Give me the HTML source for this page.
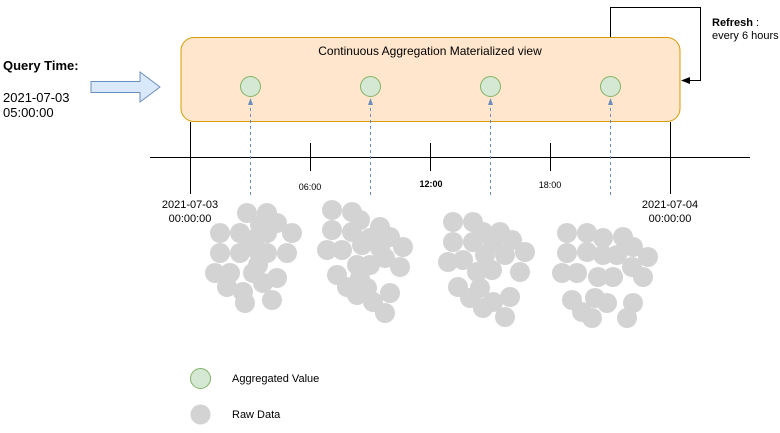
<!DOCTYPE html>
<html><head><meta charset="utf-8"><style>
html,body{margin:0;padding:0;background:#fff;}
svg{display:block;font-family:"Liberation Sans",Arial,sans-serif;}
</style></head><body>
<svg width="780" height="433" viewBox="0 0 780 433" xmlns="http://www.w3.org/2000/svg">
<rect x="181" y="37.5" width="499" height="84" rx="13" fill="#ffe6cc" stroke="#d79b00"/>
<text x="430" y="55" font-size="12" text-anchor="middle" fill="#000">Continuous Aggregation Materialized view</text>
<polyline points="610.5,37 610.5,7.5 700.5,7.5 700.5,80.5 688,80.5" fill="none" stroke="#000"/>
<polygon points="681,80.5 690,77 690,84" fill="#000"/>
<text x="712" y="26" font-size="11" font-weight="bold">Refresh <tspan font-weight="normal">:</tspan></text>
<text x="712" y="39" font-size="11">every 6 hours</text>
<text x="3" y="70" font-size="13" font-weight="bold">Query Time:</text>
<text x="3" y="102" font-size="13">2021-07-03</text>
<text x="3" y="117" font-size="13">05:00:00</text>
<polygon points="91,81.5 140,81.5 140,72 160,87 140,102 140,92.5 91,92.5" fill="#dae8fc" stroke="#6c8ebf"/>
<line x1="150" y1="157.5" x2="750" y2="157.5" stroke="#000"/>
<line x1="310.5" y1="143" x2="310.5" y2="171" stroke="#000"/>
<line x1="430.5" y1="143" x2="430.5" y2="171" stroke="#000"/>
<line x1="550.5" y1="143" x2="550.5" y2="171" stroke="#000"/>
<line x1="190.5" y1="122" x2="190.5" y2="194" stroke="#000"/>
<line x1="670.5" y1="122" x2="670.5" y2="194" stroke="#000"/>
<text x="310" y="190" font-size="9" text-anchor="middle">06:00</text>
<text x="431" y="187" font-size="9" font-weight="bold" text-anchor="middle">12:00</text>
<text x="550" y="188" font-size="9" text-anchor="middle">18:00</text>
<text x="190" y="208" font-size="11" text-anchor="middle">2021-07-03</text>
<text x="190" y="222" font-size="11" text-anchor="middle">00:00:00</text>
<text x="670" y="208" font-size="11" text-anchor="middle">2021-07-04</text>
<text x="670" y="222" font-size="11" text-anchor="middle">00:00:00</text>
<g stroke="#6c8ebf" stroke-dasharray="3,3">
<line x1="250.5" y1="195" x2="250.5" y2="104"/>
<line x1="370.5" y1="195" x2="370.5" y2="104"/>
<line x1="490.5" y1="195" x2="490.5" y2="104"/>
<line x1="610.5" y1="195" x2="610.5" y2="104"/>
</g>
<g fill="#6c8ebf">
<polygon points="250.5,98 248,105 253,105"/>
<polygon points="370.5,98 368,105 373,105"/>
<polygon points="490.5,98 488,105 493,105"/>
<polygon points="610.5,98 608,105 613,105"/>
</g>
<g fill="#d5e8d4" stroke="#82b366">
<circle cx="250.5" cy="86.5" r="10"/>
<circle cx="370.5" cy="86.5" r="10"/>
<circle cx="490.5" cy="86.5" r="10"/>
<circle cx="610.5" cy="86.5" r="10"/>
</g>
<g fill="#d3d3d3">
<circle cx="247" cy="213" r="10"/><circle cx="267" cy="213" r="10"/><circle cx="277" cy="223" r="10"/><circle cx="220" cy="233" r="10"/><circle cx="240" cy="233" r="10"/><circle cx="267" cy="233" r="10"/><circle cx="292" cy="233" r="10"/><circle cx="220" cy="253" r="10"/><circle cx="240" cy="253" r="10"/><circle cx="257" cy="250" r="10"/><circle cx="267" cy="253" r="10"/><circle cx="287" cy="253" r="10"/><circle cx="215" cy="273" r="10"/><circle cx="230" cy="273" r="10"/><circle cx="253" cy="273" r="10"/><circle cx="277" cy="278" r="10"/><circle cx="227" cy="287" r="10"/><circle cx="243" cy="292" r="10"/><circle cx="263" cy="283" r="10"/><circle cx="272" cy="300" r="10"/><circle cx="245" cy="303" r="10"/><circle cx="258" cy="265" r="10"/><circle cx="250" cy="240" r="10"/><circle cx="260" cy="225" r="10"/>
<circle cx="332" cy="210" r="10"/><circle cx="352" cy="212" r="10"/><circle cx="360" cy="220" r="10"/><circle cx="332" cy="230" r="10"/><circle cx="352" cy="232" r="10"/><circle cx="380" cy="227" r="10"/><circle cx="390" cy="237" r="10"/><circle cx="403" cy="247" r="10"/><circle cx="327" cy="250" r="10"/><circle cx="342" cy="250" r="10"/><circle cx="362" cy="245" r="10"/><circle cx="380" cy="248" r="10"/><circle cx="400" cy="267" r="10"/><circle cx="357" cy="265" r="10"/><circle cx="370" cy="265" r="10"/><circle cx="337" cy="275" r="10"/><circle cx="347" cy="287" r="10"/><circle cx="357" cy="295" r="10"/><circle cx="367" cy="288" r="10"/><circle cx="390" cy="293" r="10"/><circle cx="373" cy="302" r="10"/><circle cx="385" cy="313" r="10"/><circle cx="360" cy="278" r="10"/><circle cx="370" cy="238" r="10"/><circle cx="385" cy="258" r="10"/>
<circle cx="453" cy="222" r="10"/><circle cx="473" cy="222" r="10"/><circle cx="483" cy="232" r="10"/><circle cx="500" cy="232" r="10"/><circle cx="453" cy="242" r="10"/><circle cx="473" cy="242" r="10"/><circle cx="493" cy="243" r="10"/><circle cx="512" cy="240" r="10"/><circle cx="525" cy="252" r="10"/><circle cx="448" cy="262" r="10"/><circle cx="463" cy="260" r="10"/><circle cx="477" cy="272" r="10"/><circle cx="492" cy="270" r="10"/><circle cx="520" cy="272" r="10"/><circle cx="458" cy="287" r="10"/><circle cx="480" cy="288" r="10"/><circle cx="470" cy="298" r="10"/><circle cx="483" cy="308" r="10"/><circle cx="493" cy="302" r="10"/><circle cx="510" cy="297" r="10"/><circle cx="505" cy="317" r="10"/><circle cx="485" cy="255" r="10"/><circle cx="505" cy="255" r="10"/>
<circle cx="567" cy="233" r="10"/><circle cx="587" cy="233" r="10"/><circle cx="603" cy="238" r="10"/><circle cx="623" cy="237" r="10"/><circle cx="633" cy="247" r="10"/><circle cx="567" cy="253" r="10"/><circle cx="587" cy="252" r="10"/><circle cx="603" cy="255" r="10"/><circle cx="648" cy="257" r="10"/><circle cx="562" cy="273" r="10"/><circle cx="577" cy="273" r="10"/><circle cx="598" cy="277" r="10"/><circle cx="613" cy="277" r="10"/><circle cx="632" cy="267" r="10"/><circle cx="643" cy="277" r="10"/><circle cx="572" cy="300" r="10"/><circle cx="595" cy="298" r="10"/><circle cx="607" cy="303" r="10"/><circle cx="633" cy="303" r="10"/><circle cx="582" cy="312" r="10"/><circle cx="592" cy="318" r="10"/><circle cx="627" cy="318" r="10"/><circle cx="617" cy="255" r="10"/>
</g>
<circle cx="200.5" cy="378.5" r="10" fill="#d5e8d4" stroke="#82b366"/>
<text x="232" y="382" font-size="11">Aggregated Value</text>
<circle cx="200.5" cy="414.5" r="10" fill="#d3d3d3"/>
<text x="232" y="418" font-size="11">Raw Data</text>
</svg>
</body></html>
